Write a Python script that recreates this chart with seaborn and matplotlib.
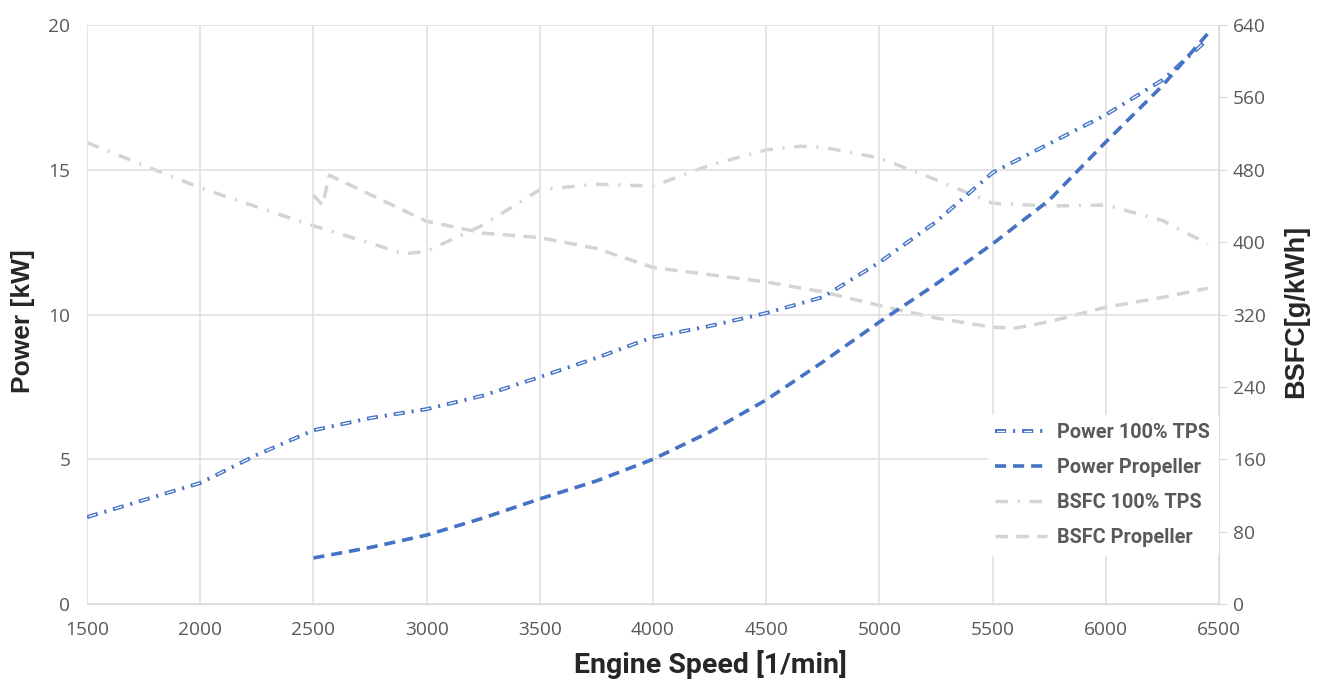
import matplotlib
matplotlib.use("Agg")
import matplotlib.pyplot as plt
from matplotlib.legend_handler import HandlerTuple
import seaborn as sns
import pandas as pd

# values
rpm_tps = [1500, 2000, 2250, 2500, 2750, 3000, 3250, 3500, 3750, 4000, 4250, 4500,
           4750, 5000, 5250, 5500, 5750, 6000, 6250, 6450]
power_tps = [3.0, 4.18, 5.15, 6.0, 6.42, 6.73, 7.2, 7.84, 8.5, 9.22, 9.6, 10.05,
             10.6, 11.8, 13.2, 14.9, 15.9, 16.9, 18.1, 19.5]

rpm_prop = [2500, 2750, 3000, 3250, 3500, 3750, 4000, 4250, 4500, 4750, 5000,
            5250, 5500, 5750, 6000, 6250, 6450]
power_prop = [1.59, 1.95, 2.38, 2.97, 3.63, 4.25, 5.0, 5.94, 7.05, 8.36, 9.74,
              11.05, 12.44, 13.95, 15.96, 17.9, 19.7]

rpm_bsfc_tps = [1500, 2000, 2500, 2750, 2900, 3000, 3250, 3500, 3750, 4000, 4250,
                4500, 4650, 4750, 5000, 5250, 5500, 5750, 6000, 6250, 6450]
bsfc_tps = [510, 460, 418, 399, 387, 390, 419, 458, 464, 462, 485,
            502, 506, 505, 493, 469, 443, 440, 441, 424, 398]

rpm_bsfc_prop = [2500, 2540, 2570, 3000, 3250, 3500, 3750, 4000, 4250, 4500, 4750,
                 5000, 5250, 5500, 5600, 5750, 6000, 6250, 6450]
bsfc_prop = [452, 441, 474, 423, 410, 405, 393, 372, 364, 356, 345,
             330, 316, 306, 305, 312, 328, 339, 349]

blue = "#4472C4"
grey_line = "#D4D4D4"
tick_col = "#595959"

sns.set_style("white")
plt.rcParams["font.family"] = ["Roboto", "DejaVu Sans"]
plt.rcParams["lines.scale_dashes"] = False

fig = plt.figure(figsize=(13.25, 6.8), dpi=100)
ax = fig.add_axes([0.0657, 0.1118, 0.8543, 0.8514])
ax2 = ax.twinx()

df_tps = pd.DataFrame({"rpm": rpm_tps, "p": power_tps})
df_prop = pd.DataFrame({"rpm": rpm_prop, "p": power_prop})
df_btps = pd.DataFrame({"rpm": rpm_bsfc_tps, "b": bsfc_tps})
df_bprop = pd.DataFrame({"rpm": rpm_bsfc_prop, "b": bsfc_prop})

sns.lineplot(data=df_btps, x="rpm", y="b", ax=ax2, color=grey_line, lw=2.5,
             legend=False)
ax2.lines[-1].set_dashes([9, 7, 1.5, 7])
sns.lineplot(data=df_bprop, x="rpm", y="b", ax=ax2, color=grey_line, lw=2.5,
             legend=False)
ax2.lines[-1].set_dashes([9, 6])

# power 100% TPS: hollow dashes with solid dots
period = 8 + 5 + 1.5 + 5
sns.lineplot(data=df_tps, x="rpm", y="p", ax=ax, color=blue, lw=2.8, legend=False)
l1 = ax.lines[-1]
l1.set_dashes([8, 5, 1.5, 5])
sns.lineplot(data=df_tps, x="rpm", y="p", ax=ax, color="white", lw=0.9, legend=False)
l1w = ax.lines[-1]
l1w.set_linestyle((period - 1.2, (5.6, period - 5.6)))
sns.lineplot(data=df_prop, x="rpm", y="p", ax=ax, color=blue, lw=2.6, legend=False)
l2 = ax.lines[-1]
l2.set_dashes([8, 5])

ax.set_zorder(ax2.get_zorder() + 1)
ax.patch.set_visible(False)

ax.set_xlim(1500, 6500)
ax.set_ylim(0, 20)
ax2.set_ylim(0, 640)
ax.set_xticks(range(1500, 6501, 500))
ax.set_yticks([0, 5, 10, 15, 20])
ax2.set_yticks(range(0, 641, 80))

ax2.grid(False)
ax.grid(True, color="#E0E0E0", lw=1.2)
for a in (ax, ax2):
    for s in a.spines.values():
        s.set_visible(False)
ax.spines["bottom"].set_visible(True)
ax.spines["bottom"].set_color("#D9D9D9")
ax2.spines["right"].set_visible(True)
ax2.spines["right"].set_color("#D9D9D9")

ax.tick_params(axis="both", labelsize=13.8, colors=tick_col, length=0)
ax.tick_params(axis="x", pad=12)
ax.tick_params(axis="y", pad=12)
ax2.tick_params(axis="y", labelsize=13.8, colors=tick_col, length=6, color="#D9D9D9",
                direction="out", pad=4)
for t in ax.get_xticklabels() + ax.get_yticklabels() + ax2.get_yticklabels():
    t.set_fontfamily(["Open Sans", "DejaVu Sans"])

ax.set_xlabel("Engine Speed [1/min]", fontsize=20.5, fontweight="bold")
ax.xaxis.set_label_coords(0.551, -0.08)
ax.set_ylabel("Power [kW]", fontsize=19, fontweight="bold",
              fontfamily=["Liberation Sans", "DejaVu Sans"])
ax.yaxis.set_label_coords(-0.046, 0.489)
ax2.set_ylabel("BSFC[g/kWh]", fontsize=19.5, fontweight="bold",
               fontfamily=["Liberation Sans", "DejaVu Sans"])
ax2.yaxis.set_label_coords(1.057, 0.506)

handles = [(l1, l1w), l2, ax2.lines[0], ax2.lines[1]]
labels = ["Power 100% TPS", "Power Propeller", "BSFC 100% TPS", "BSFC Propeller"]
leg = ax.legend(handles, labels, loc="lower right", bbox_to_anchor=(0.999, 0.085),
                frameon=True, handlelength=2.6, handletextpad=0.5, labelspacing=0.8,
                borderpad=0.4, borderaxespad=0,
                handler_map={tuple: HandlerTuple(ndivide=1)},
                prop={"weight": "bold", "size": 14.3})
leg.get_frame().set_facecolor("white")
leg.get_frame().set_edgecolor("white")
leg.get_frame().set_alpha(1)
for t in leg.get_texts():
    t.set_color(tick_col)

fig.savefig("out.png", dpi=100)
